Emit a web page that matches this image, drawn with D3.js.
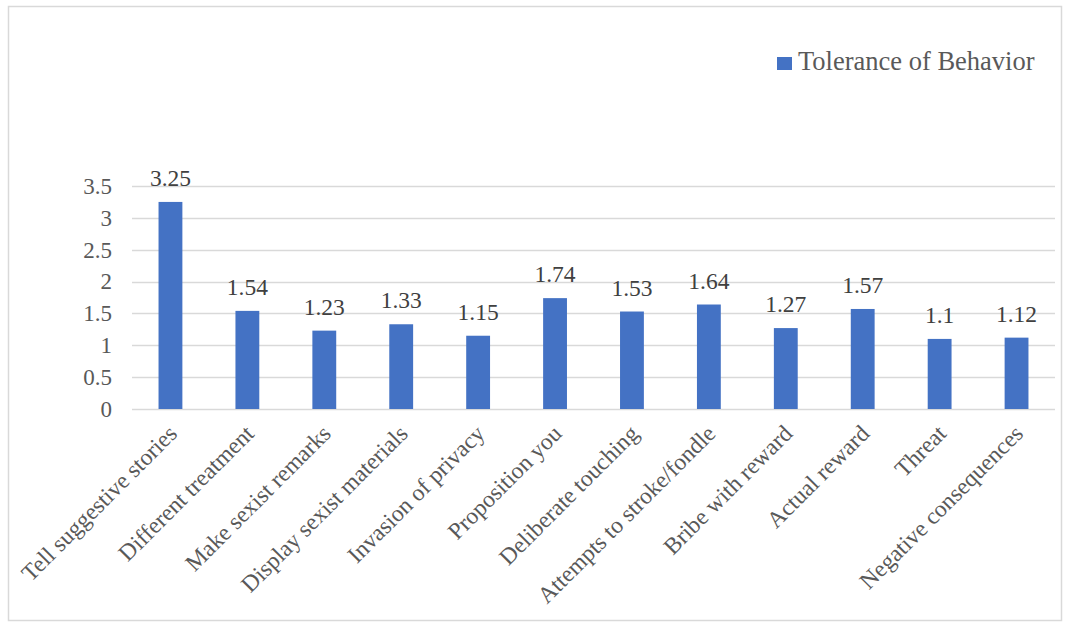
<!DOCTYPE html>
<html><head><meta charset="utf-8">
<script src="https://cdn.jsdelivr.net/npm/d3@7"></script>
<style>html,body{margin:0;padding:0;background:#fff;}</style>
</head><body>
<svg id="chart" width="1065" height="626"></svg>
<script>
const categories = ["Tell suggestive stories","Different treatment","Make sexist remarks","Display sexist materials","Invasion of privacy","Proposition you","Deliberate touching","Attempts to stroke/fondle","Bribe with reward","Actual reward","Threat","Negative consequences"];
const values = [3.25,1.54,1.23,1.33,1.15,1.74,1.53,1.64,1.27,1.57,1.1,1.12];
const valueLabels = ["3.25","1.54","1.23","1.33","1.15","1.74","1.53","1.64","1.27","1.57","1.1","1.12"];
const yTicks = [0,0.5,1,1.5,2,2.5,3,3.5];
const seriesName = "Tolerance of Behavior";

(function(){
const svg = d3.select("#chart");
const font = "'Liberation Serif','Times New Roman',serif";
svg.append("rect").attr("x",8.5).attr("y",6.5).attr("width",1053).attr("height",614)
  .attr("fill","#fff").attr("stroke","#d9d9d9").attr("stroke-width",1.5);

const pLeft=132, pRight=1055, pTop=186, pBottom=409;
const x = d3.scaleBand().domain(categories).range([pLeft,pRight]).paddingInner(0.69).paddingOuter(0.345);
const y = d3.scaleLinear().domain([0,3.5]).range([pBottom,pTop]);

const grid = svg.append("g");
grid.selectAll("line").data(yTicks).join("line")
  .attr("x1",pLeft).attr("x2",pRight).attr("y1",d=>Math.round(y(d))+0.5).attr("y2",d=>Math.round(y(d))+0.5)
  .attr("stroke","#d9d9d9").attr("stroke-width",1.5);

const yAxis = d3.axisLeft(y).tickValues(yTicks).tickSize(0).tickPadding(0).tickFormat(d=>String(d));
const ya = svg.append("g").attr("transform",`translate(${112},0)`).call(yAxis);
ya.select(".domain").remove();
ya.selectAll("text").attr("font-family",font).attr("font-size",23).attr("fill","#595959");

svg.append("g").selectAll("rect").data(values).join("rect")
  .attr("x",(d,i)=>x(categories[i])).attr("width",x.bandwidth())
  .attr("y",d=>y(d)).attr("height",d=>pBottom-y(d)).attr("fill","#4472c4");

svg.append("g").selectAll("text").data(values).join("text")
  .attr("x",(d,i)=>x(categories[i])+x.bandwidth()/2).attr("y",d=>y(d)-16)
  .attr("text-anchor","middle").attr("font-family",font).attr("font-size",23.5).attr("fill","#404040")
  .text((d,i)=>valueLabels[i]);

const xAxis = d3.axisBottom(x).tickSize(0).tickPadding(0);
const xa = svg.append("g").attr("transform",`translate(0,${pBottom})`).call(xAxis);
xa.select(".domain").remove();
xa.selectAll("text").attr("font-family",font).attr("font-size",23.5).attr("fill","#595959")
  .attr("text-anchor","end").attr("dy",null).attr("y",0)
  .attr("transform","translate(8,26) rotate(-45)");

const lg = svg.append("g").attr("transform","translate(777,57)");
lg.append("rect").attr("width",15).attr("height",13).attr("fill","#4472c4");
lg.append("text").attr("x",21).attr("y",13).attr("font-family",font).attr("font-size",26.5).attr("fill","#595959").text(seriesName);
})();
</script>
</body></html>
